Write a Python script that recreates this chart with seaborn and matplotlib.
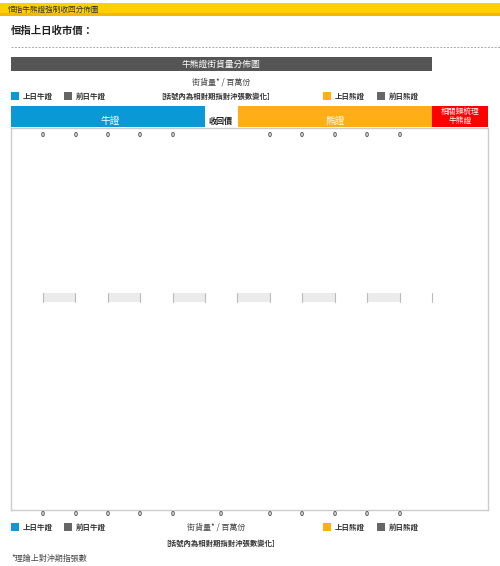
import matplotlib
matplotlib.use("Agg")
import matplotlib.pyplot as plt
import matplotlib.transforms as mtransforms
from matplotlib.patches import Rectangle
import seaborn as sns
import pandas as pd

# ---- data (all columns empty on this day) ----
bull_positions = [0, 1, 2, 3, 4]
bear_positions = [7, 8, 9, 10, 11]
call_position = 5.5
bull_today = [0, 0, 0, 0, 0]
bull_prev = [0, 0, 0, 0, 0]
bear_today = [0, 0, 0, 0, 0]
bear_prev = [0, 0, 0, 0, 0]
bottom_totals = [0, 0, 0, 0, 0, 0, 0, 0, 0, 0, 0]
axis_ticks = [0, 2, 4, 6, 8, 10, 12]

legend_bull = ["上日牛證", "前日牛證"]
legend_bear = ["上日熊證", "前日熊證"]

BLUE = "#0a98d6"
ORANGE = "#ffae17"
RED = "#ff0000"
DARK = "#666666"
BAR_GREY = "#555555"

sns.set_style("white")
plt.rcParams['font.family'] = ['Noto Sans CJK TC', 'DejaVu Sans']

fig = plt.figure(figsize=(5.0, 5.66), dpi=100)

# overlay in pixel units for the page furniture
ov = fig.add_axes([0, 0, 1, 1])
ov.set_xlim(0, 500)
ov.set_ylim(566, 0)
ov.axis('off')

# yellow strip header
ov.add_patch(Rectangle((0, 3), 500, 13, color="#ffd000", lw=0))
ov.add_patch(Rectangle((0, 13), 500, 3, color="#f5b800", lw=0))
ov.text(8, 9.5, "恒指牛熊證強制收回分佈圖", fontsize=5.5, color="#333333", va='center')

ov.text(11, 31, "恒指上日收市價：", fontsize=7.5, fontweight='bold', color="#222222", va='center')
ov.plot([11, 500], [47, 47], ls=(0, (2, 1.5)), color="#aaaaaa", lw=0.7)

# dark title bar
ov.add_patch(Rectangle((11, 57), 421, 14, color=BAR_GREY, lw=0))
ov.text(221, 64, "牛熊證街貨量分佈圖", fontsize=6.3, color="white", ha='center', va='center')
ov.text(221, 82, "街貨量* / 百萬份", fontsize=5.8, color="#444444", ha='center', va='center')


def legend_row(y, middle_text, middle_bold):
    items = [(11, BLUE, legend_bull[0]), (64, DARK, legend_bull[1]),
             (323, ORANGE, legend_bear[0]), (377, DARK, legend_bear[1])]
    for x, c, label in items:
        ov.add_patch(Rectangle((x, y - 4), 8, 8, color=c, lw=0))
        ov.text(x + 12, y, label, fontsize=5.4, fontweight='bold', color="#333333", va='center')
    ov.text(216, y, middle_text, fontsize=5.3 if middle_bold else 5.8,
            fontweight='bold' if middle_bold else 'normal',
            color="#333333" if middle_bold else "#444444", ha='center', va='center')


legend_row(96, "[括號內為相對期指對沖張數變化]", True)

# column header row
ov.add_patch(Rectangle((11, 106), 194, 21, color=BLUE, lw=0))
ov.add_patch(Rectangle((238, 106), 194, 21, color=ORANGE, lw=0))
ov.add_patch(Rectangle((432, 106), 56, 21, color=RED, lw=0))
ov.text(110, 121, "牛證", fontsize=7, color="white", ha='center', va='center')
ov.text(335, 121, "熊證", fontsize=7, color="white", ha='center', va='center')
ov.text(221, 121, "收回價", fontsize=5.8, fontweight='bold', color="#222222", ha='center', va='center')
ov.text(460, 116.5, "相關類梳理\n牛熊證", fontsize=5.6, color="white", ha='center', va='center',
        linespacing=1.15)

legend_row(527, "街貨量* / 百萬份", False)
ov.text(221, 543, "[括號內為相對期指對沖張數變化]", fontsize=5.3, fontweight='bold',
        color="#333333", ha='center', va='center')
ov.text(11, 558, "*理論上對沖期指張數", fontsize=5.8, color="#444444", va='center')

# ---- main chart box ----
ax = fig.add_axes([11 / 500, 1 - 510 / 566, 477 / 500, 382 / 566])
ax.set_xlim(-0.988, 13.73)
ax.set_ylim(-5.56, 4.44)

bars = pd.DataFrame({
    "pos": bull_positions * 2 + bear_positions * 2,
    "value": bull_today + bull_prev + bear_today + bear_prev,
    "series": ([legend_bull[0]] * 5 + [legend_bull[1]] * 5 +
               [legend_bear[0]] * 5 + [legend_bear[1]] * 5),
})
sns.barplot(data=bars, x="pos", y="value", hue="series", native_scale=True,
            palette=[BLUE, DARK, ORANGE, DARK], legend=False, ax=ax, width=0.8)

# central axis band
for a in axis_ticks[:-1]:
    ax.add_patch(Rectangle((a, -0.12), 1, 0.24, color="#ebebeb", lw=0, zorder=2))
for t in axis_ticks:
    ax.plot([t, t], [-0.12, 0.12], color="#bbbbbb", lw=0.8, zorder=3)
    if t != axis_ticks[-1]:
        ax.plot([t + 1, t + 1], [-0.12, 0.12], color="#bbbbbb", lw=0.8, zorder=3)

trans = mtransforms.blended_transform_factory(ax.transData, ax.transAxes)
for p, v in zip(bull_positions + bear_positions, bull_today + bear_today):
    ax.text(p, 0.984, f"{v:g}", transform=trans, fontsize=5, fontweight='bold',
            color="#555555", ha='center', va='center')
bottom_positions = bull_positions + [call_position] + bear_positions
for p, v in zip(bottom_positions, bottom_totals):
    ax.text(p, -0.008, f"{v:g}", transform=trans, fontsize=5, fontweight='bold',
            color="#555555", ha='center', va='center', clip_on=False)

ax.set_xticks([])
ax.set_yticks([])
ax.set_xlabel("")
ax.set_ylabel("")
for s in ax.spines.values():
    s.set_color("#cccccc")
    s.set_linewidth(1)

fig.savefig("out.png", dpi=100)
